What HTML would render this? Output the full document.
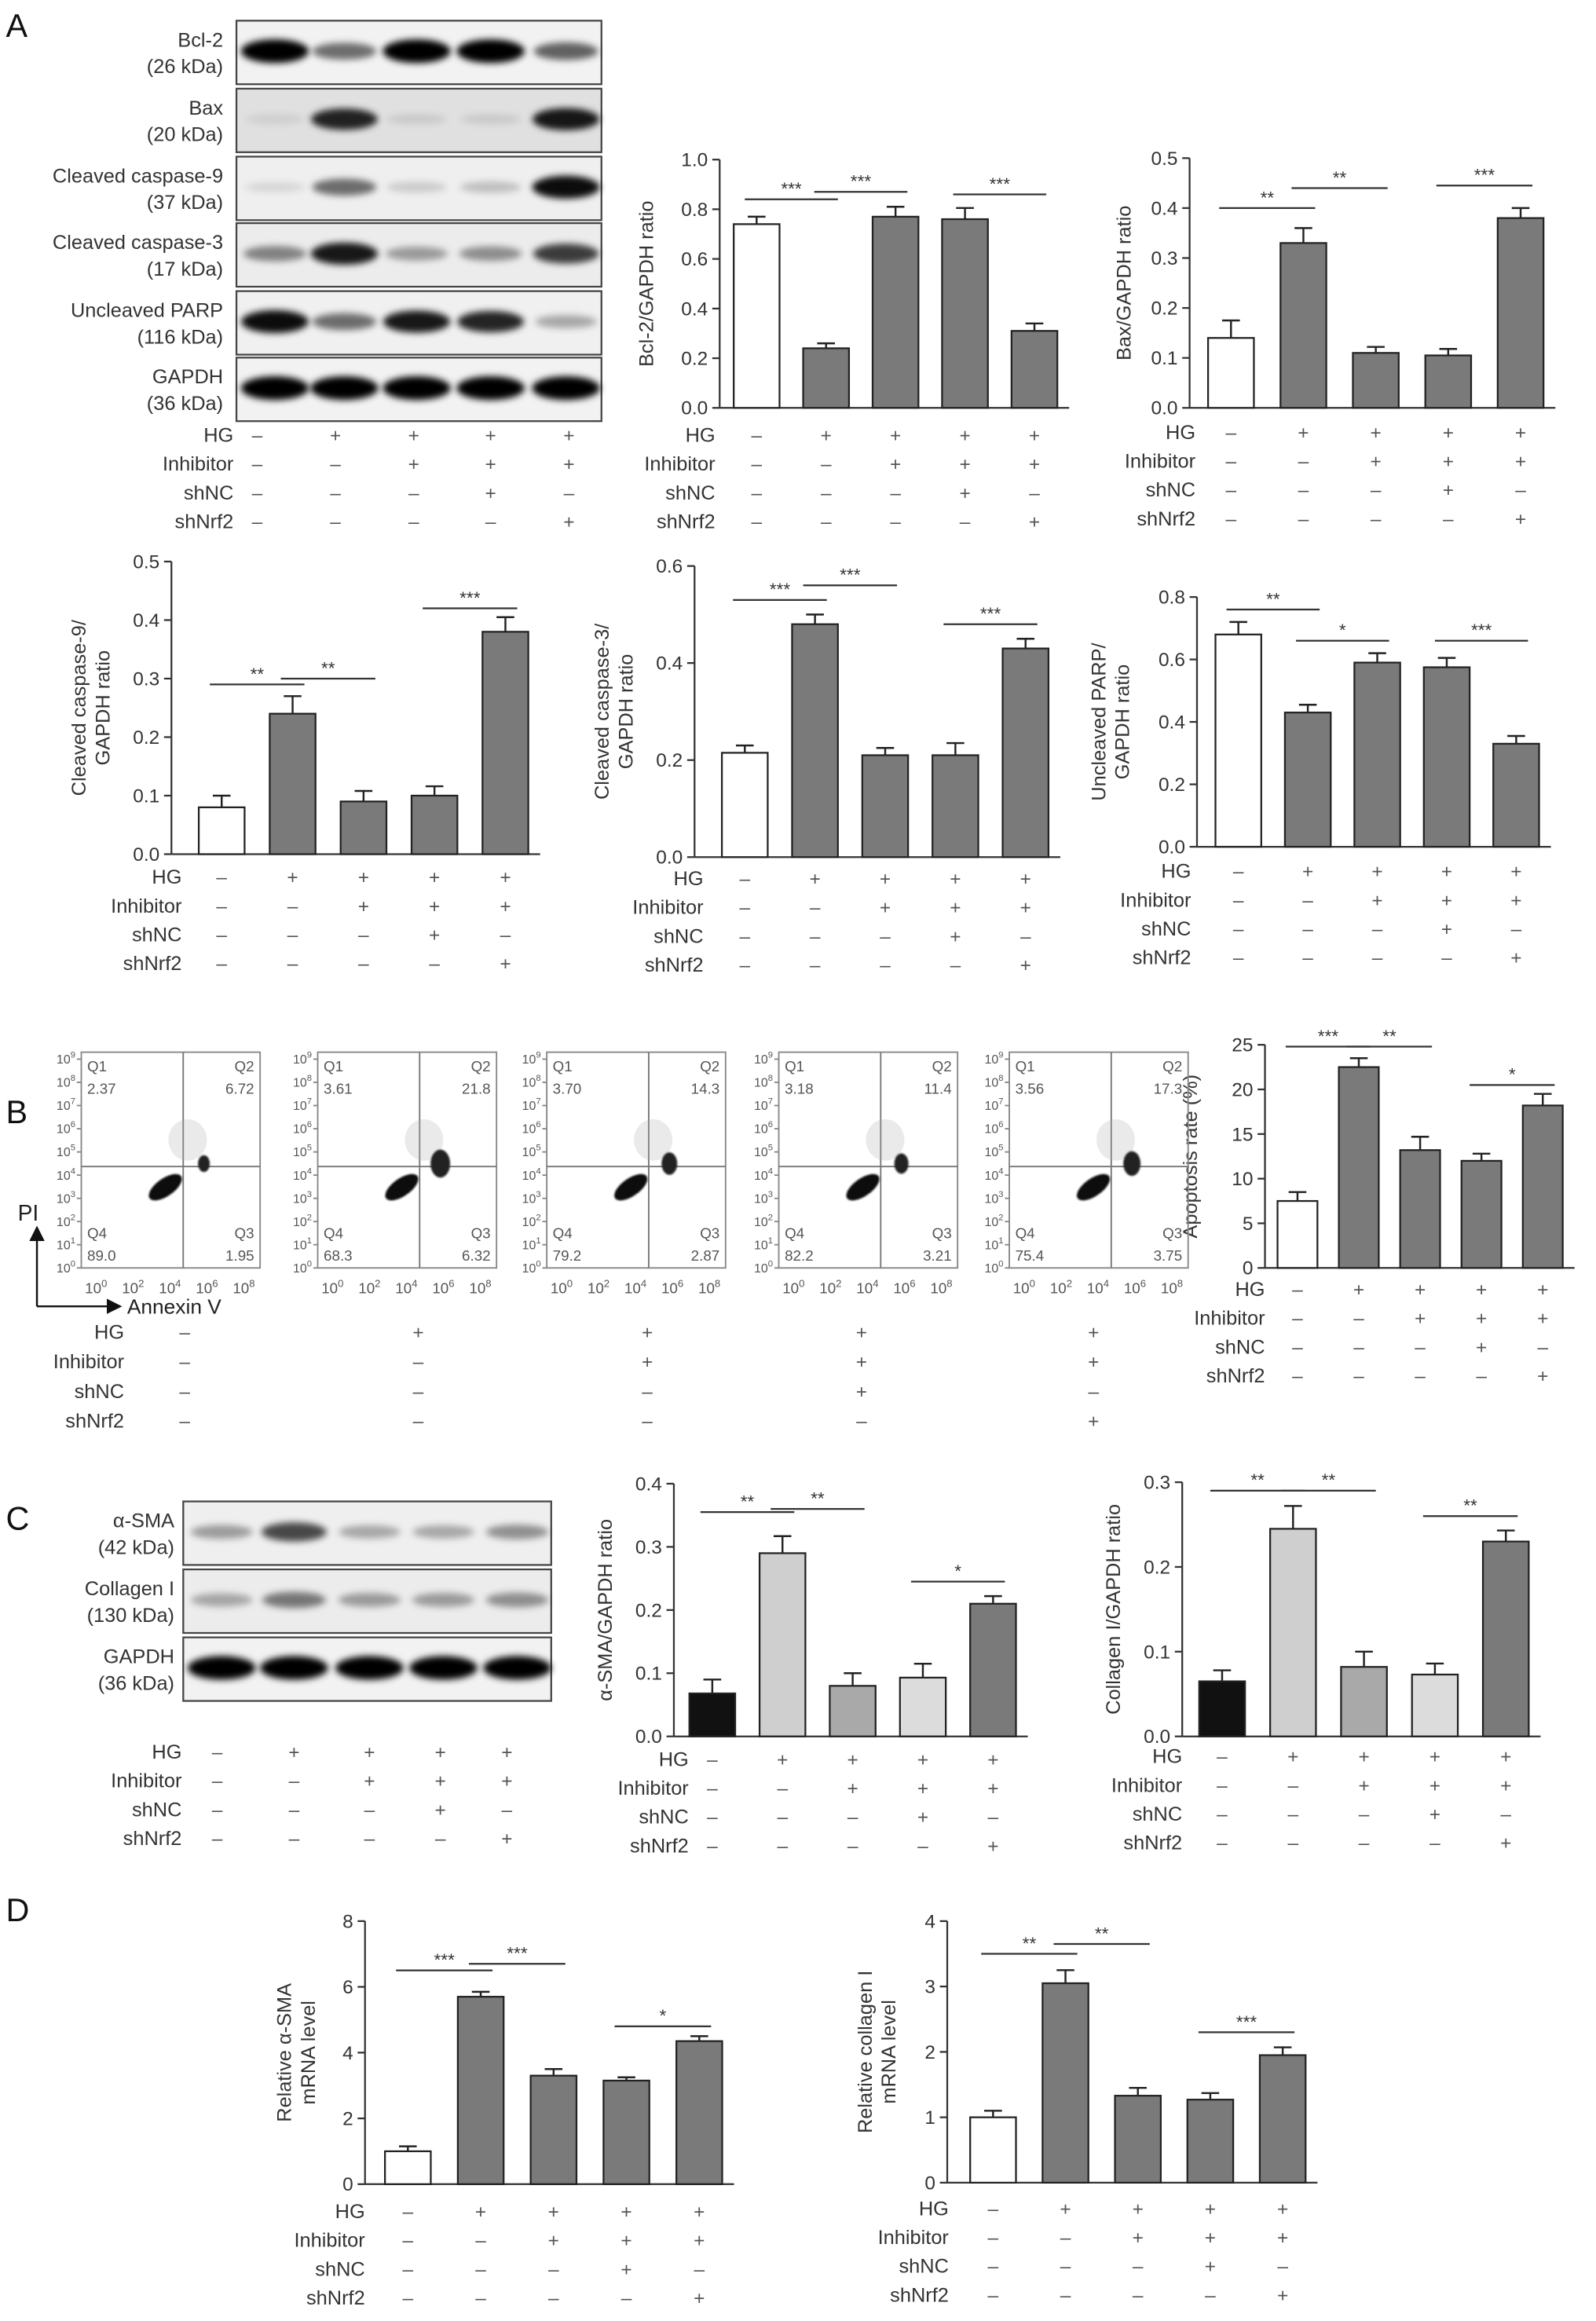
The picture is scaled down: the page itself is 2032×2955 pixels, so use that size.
<!DOCTYPE html>
<html><head><meta charset="utf-8">
<style>
html,body{margin:0;padding:0;background:#fff;}
svg{display:block;font-family:"Liberation Sans",sans-serif;}
</style></head>
<body>
<svg id="fig" width="2032" height="2955" viewBox="0 0 1080 1570.6" xmlns="http://www.w3.org/2000/svg">
<defs>
<filter id="blur" x="-20%" y="-50%" width="140%" height="200%"><feGaussianBlur stdDeviation="2.2"/></filter>
<filter id="blur2"><feGaussianBlur stdDeviation="0.6"/></filter>
<marker id="arr" markerWidth="8" markerHeight="8" refX="6" refY="4" orient="auto"><path d="M0,0 L8,4 L0,8 z" fill="#111"/></marker>
</defs>
<g id="root"></g>
</svg>
<script>
// ===== chart data =====
const groups = ["Control","HG","HG+Inhibitor","HG+Inhibitor+shNC","HG+Inhibitor+shNrf2"];
const rowLabels = ["HG","Inhibitor","shNC","shNrf2"];
const rowSigns = [["–","+","+","+","+"],["–","–","+","+","+"],["–","–","–","+","–"],["–","–","–","–","+"]];

const bcl2Values = [0.74,0.24,0.77,0.76,0.31];
const bcl2Errors = [0.03,0.02,0.04,0.045,0.03];
const bcl2Ticks = [0,0.2,0.4,0.6,0.8,1.0];
const bcl2Sig = [[0,1,"***",0.84],[1,2,"***",0.87],[3,4,"***",0.86]];

const baxValues = [0.14,0.33,0.11,0.105,0.38];
const baxErrors = [0.035,0.03,0.012,0.013,0.02];
const baxTicks = [0,0.1,0.2,0.3,0.4,0.5];
const baxSig = [[0,1,"**",0.40],[1,2,"**",0.44],[3,4,"***",0.445]];

const casp9Values = [0.08,0.24,0.09,0.10,0.38];
const casp9Errors = [0.02,0.03,0.018,0.016,0.025];
const casp9Ticks = [0,0.1,0.2,0.3,0.4,0.5];
const casp9Sig = [[0,1,"**",0.29],[1,2,"**",0.30],[3,4,"***",0.42]];

const casp3Values = [0.215,0.48,0.21,0.21,0.43];
const casp3Errors = [0.015,0.02,0.015,0.025,0.02];
const casp3Ticks = [0,0.2,0.4,0.6];
const casp3Sig = [[0,1,"***",0.53],[1,2,"***",0.56],[3,4,"***",0.48]];

const parpValues = [0.68,0.43,0.59,0.575,0.33];
const parpErrors = [0.04,0.025,0.03,0.03,0.025];
const parpTicks = [0,0.2,0.4,0.6,0.8];
const parpSig = [[0,1,"**",0.76],[1,2,"*",0.66],[3,4,"***",0.66]];

const apopValues = [7.5,22.5,13.2,12.0,18.2];
const apopErrors = [1.0,1.0,1.5,0.8,1.3];
const apopTicks = [0,5,10,15,20,25];
const apopSig = [[0,1,"***",24.8],[1,2,"**",24.8],[3,4,"*",20.5]];

const smaValues = [0.068,0.29,0.08,0.093,0.21];
const smaErrors = [0.022,0.027,0.02,0.022,0.012];
const smaTicks = [0,0.1,0.2,0.3,0.4];
const smaSig = [[0,1,"**",0.355],[1,2,"**",0.36],[3,4,"*",0.245]];

const colValues = [0.065,0.245,0.082,0.073,0.23];
const colErrors = [0.013,0.027,0.018,0.013,0.013];
const colTicks = [0,0.1,0.2,0.3];
const colSig = [[0,1,"**",0.29],[1,2,"**",0.29],[3,4,"**",0.26]];

const smaMrnaValues = [1.0,5.7,3.3,3.15,4.35];
const smaMrnaErrors = [0.15,0.15,0.2,0.1,0.15];
const smaMrnaTicks = [0,2,4,6,8];
const smaMrnaSig = [[0,1,"***",6.5],[1,2,"***",6.7],[3,4,"*",4.8]];

const colMrnaValues = [1.0,3.05,1.33,1.27,1.95];
const colMrnaErrors = [0.1,0.2,0.12,0.1,0.12];
const colMrnaTicks = [0,1,2,3,4];
const colMrnaSig = [[0,1,"**",3.5],[1,2,"**",3.65],[3,4,"***",2.3]];

const flowQ1 = ["2.37","3.61","3.70","3.18","3.56"];
const flowQ2 = ["6.72","21.8","14.3","11.4","17.3"];
const flowQ3 = ["1.95","6.32","2.87","3.21","3.75"];
const flowQ4 = ["89.0","68.3","79.2","82.2","75.4"];

// ===== helpers =====
const NS="http://www.w3.org/2000/svg";
const root=document.getElementById('root');
function el(tag,attrs,parent,text){const e=document.createElementNS(NS,tag);for(const k in attrs)e.setAttribute(k,attrs[k]);if(text!==undefined)e.textContent=text;(parent||root).appendChild(e);return e;}
const INK="#333";

function drawTable(g,x0,centers,y0,dy,labelX){
  rowLabels.forEach((lab,r)=>{
    const t=el('text',{x:labelX,y:y0+r*dy,'text-anchor':'end','font-size':13.5,fill:INK},g,lab);
    
    
    rowSigns[r].forEach((s,i)=>{
      const c=el('text',{x:centers[i],y:y0+r*dy,'text-anchor':'middle','font-size':13,fill:'#555'},g,s);
      
      
    });
  });
}

function barChart(cfg){
  const g=el('g',{},root);
  
  
  const ymax=cfg.ticks[cfg.ticks.length-1];
  const Y=v=>cfg.y0-(v/ymax)*(cfg.y0-cfg.y1);
  const X=i=>cfg.cx0+i*cfg.step;
  const bw=cfg.bw||31;
  const ya=el('line',{x1:cfg.ax,y1:cfg.y0,x2:cfg.ax,y2:cfg.y1,stroke:INK,'stroke-width':1.2},g);
  
  const xa=el('line',{x1:cfg.ax,y1:cfg.y0,x2:X(4)+bw/2+8,y2:cfg.y0,stroke:INK,'stroke-width':1.2},g);
  
  cfg.ticks.forEach(t=>{
    el('line',{x1:cfg.ax-5,y1:Y(t),x2:cfg.ax,y2:Y(t),stroke:INK,'stroke-width':1.2},g);
    const lt=el('text',{x:cfg.ax-8,y:Y(t)+4.5,'text-anchor':'end','font-size':13,fill:INK},g,cfg.fmt(t));
    
  });
  const ty=(cfg.y0+cfg.y1)/2;
  const tt=el('text',{transform:`translate(${cfg.tx},${ty}) rotate(-90)`,'text-anchor':'middle','font-size':13.5,fill:INK},g);
  
  cfg.title.forEach((line,k)=>{el('tspan',{x:0,dy:k===0?-(cfg.title.length-1)*8:16},tt,line);});
  cfg.values.forEach((v,i)=>{
    const col=cfg.colors[i];
    const e=cfg.errors[i];
    const cap=el('line',{x1:X(i)-6,y1:Y(v+e),x2:X(i)+6,y2:Y(v+e),stroke:'#222','stroke-width':1.3},g);
    
    const eb=el('line',{x1:X(i),y1:Y(v),x2:X(i),y2:Y(v+e),stroke:'#222','stroke-width':1.3},g);
    
    const b=el('rect',{x:X(i)-bw/2,y:Y(v),width:bw,height:cfg.y0-Y(v),fill:col,stroke:'#222','stroke-width':1.2},g);
    
  });
  cfg.sig.forEach(s=>{
    const y=Y(s[3]);
    const l=el('line',{x1:X(s[0])-8,y1:y,x2:X(s[1])+8,y2:y,stroke:INK,'stroke-width':1.2},g);
    
    const t=el('text',{x:(X(s[0])+X(s[1]))/2,y:y-3,'text-anchor':'middle','font-size':12,fill:INK},g,s[2]);
    
  });
  drawTable(g,0,[0,1,2,3,4].map(X),cfg.tabY,cfg.tabDy||19.5,cfg.labelX);
}
const fmt1=t=>t.toFixed(1), fmt0=t=>String(t);
const WG=['#fff','#7a7a7a','#7a7a7a','#7a7a7a','#7a7a7a'];
const CG=['#111','#cfcfcf','#a9a9a9','#dcdcdc','#7a7a7a'];

barChart({name:'bcl2-chart',values:bcl2Values,errors:bcl2Errors,ticks:bcl2Ticks,sig:bcl2Sig,fmt:fmt1,colors:WG,
  ax:487,y0:276,y1:108,cx0:512,step:47,tx:442,title:['Bcl-2/GAPDH ratio'],tabY:299,labelX:484});
barChart({name:'bax-chart',values:baxValues,errors:baxErrors,ticks:baxTicks,sig:baxSig,fmt:fmt1,colors:WG,
  ax:805,y0:276,y1:107,cx0:833,step:49,tx:765,title:['Bax/GAPDH ratio'],tabY:297,labelX:809});
barChart({name:'caspase9-chart',values:casp9Values,errors:casp9Errors,ticks:casp9Ticks,sig:casp9Sig,fmt:fmt1,colors:WG,
  ax:116,y0:578,y1:380,cx0:150,step:48,tx:66,title:['Cleaved caspase-9/','GAPDH ratio'],tabY:598,labelX:123});
barChart({name:'caspase3-chart',values:casp3Values,errors:casp3Errors,ticks:casp3Ticks,sig:casp3Sig,fmt:fmt1,colors:WG,
  ax:470,y0:580,y1:383,cx0:504,step:47.5,tx:420,title:['Cleaved caspase-3/','GAPDH ratio'],tabY:599,labelX:476});
barChart({name:'parp-chart',values:parpValues,errors:parpErrors,ticks:parpTicks,sig:parpSig,fmt:fmt1,colors:WG,
  ax:810,y0:573,y1:404,cx0:838,step:47,tx:756,title:['Uncleaved PARP/','GAPDH ratio'],tabY:594,labelX:806});
barChart({name:'apoptosis-chart',values:apopValues,errors:apopErrors,ticks:apopTicks,sig:apopSig,fmt:fmt0,colors:WG,
  ax:856,y0:858,y1:707,cx0:878,step:41.5,bw:27,tx:810,title:['Apoptosis rate (%)'],tabY:877,labelX:856});
barChart({name:'sma-protein-chart',values:smaValues,errors:smaErrors,ticks:smaTicks,sig:smaSig,fmt:fmt1,colors:CG,
  ax:456,y0:1175,y1:1004,cx0:482,step:47.5,tx:414,title:['α-SMA/GAPDH ratio'],tabY:1195,labelX:466});
barChart({name:'collagen-protein-chart',values:colValues,errors:colErrors,ticks:colTicks,sig:colSig,fmt:fmt1,colors:CG,
  ax:800,y0:1175,y1:1003,cx0:827,step:48,tx:758,title:['Collagen I/GAPDH ratio'],tabY:1193,labelX:800});
barChart({name:'sma-mrna-chart',values:smaMrnaValues,errors:smaMrnaErrors,ticks:smaMrnaTicks,sig:smaMrnaSig,fmt:fmt0,colors:WG,
  ax:247,y0:1478,y1:1300,cx0:276,step:49.3,tx:205,title:['Relative α-SMA','mRNA level'],tabY:1501,labelX:247});
barChart({name:'collagen-mrna-chart',values:colMrnaValues,errors:colMrnaErrors,ticks:colMrnaTicks,sig:colMrnaSig,fmt:fmt0,colors:WG,
  ax:641,y0:1477,y1:1300,cx0:672,step:49,tx:598,title:['Relative collagen I','mRNA level'],tabY:1499,labelX:642});

[['A',4,25],['B',4,760],['C',4,1035],['D',4,1300]].forEach(p=>{
  const t=el('text',{x:p[1],y:p[2],'font-size':22,fill:'#111'},root,p[0]);
  
  
});

function blot(name,x,y,w,h,lanes,intens,bg,labels,labelX){
  const g=el('g',{},root);
  
  
  el('rect',{x:x,y:y,width:w,height:h,fill:bg,stroke:'#444','stroke-width':1.2},g);
  lanes.forEach((cx,i)=>{
    const a=intens[i];
    if(a<=0)return;
    const b=el('ellipse',{cx:cx,cy:y+h*0.48,rx:20+a*3,ry:3+a*5,fill:'#000','fill-opacity':Math.min(1,a),filter:'url(#blur)'},g);
    
  });
  labels.forEach((l,k)=>{
    const t=el('text',{x:labelX,y:y+h/2-4+k*18,'text-anchor':'end','font-size':13.5,fill:INK},g,l);
    
  });
}
const laneA=[186,233,282,332,383];
blot('bcl2-blot',160,14,247,43,laneA,[1,0.55,1,1,0.6],'#f2f2f2',['Bcl-2','(26 kDa)'],151);
blot('bax-blot',160,60,247,43,laneA,[0.08,0.85,0.1,0.1,0.9],'#e0e0e0',['Bax','(20 kDa)'],151);
blot('caspase9-blot',160,106,247,43,laneA,[0.1,0.55,0.15,0.2,0.95],'#efefef',['Cleaved caspase-9','(37 kDa)'],151);
blot('caspase3-blot',160,151,247,43,laneA,[0.45,0.9,0.35,0.4,0.75],'#ececec',['Cleaved caspase-3','(17 kDa)'],151);
blot('parp-blot',160,197,247,43,laneA,[0.95,0.55,0.9,0.85,0.3],'#f0f0f0',['Uncleaved PARP','(116 kDa)'],151);
blot('gapdh-blot-a',160,242,247,43,laneA,[1,1,1,1,1],'#f2f2f2',['GAPDH','(36 kDa)'],151);
drawTable(root,0,[174,227,280,332,385],299,19.5,158);

const laneC=[150,199,250,300,350];
blot('sma-blot',124,1016,249,43,laneC,[0.35,0.7,0.3,0.3,0.4],'#efefef',['α-SMA','(42 kDa)'],118);
blot('collagen-blot',124,1062,249,43,laneC,[0.3,0.5,0.35,0.35,0.4],'#ececec',['Collagen I','(130 kDa)'],118);
blot('gapdh-blot-c',124,1108,249,43,laneC,[1,1,1,1,1],'#f2f2f2',['GAPDH','(36 kDa)'],118);
drawTable(root,0,[147,199,250,298,343],1190,19.5,123);

const flowX=[55,215,370,527,683];
flowX.forEach((fx,p)=>{
  const g=el('g',{},root);
  
  
  const bx=fx,by=712,bw=121,bh=146;
  el('rect',{x:bx,y:by,width:bw,height:bh,fill:'none',stroke:'#888','stroke-width':1},g);
  const qx=bx+bw*0.57,qy=by+bh*0.53;
  el('line',{x1:qx,y1:by,x2:qx,y2:by+bh,stroke:'#777','stroke-width':1},g);
  el('line',{x1:bx,y1:qy,x2:bx+bw,y2:qy,stroke:'#777','stroke-width':1},g);
  el('ellipse',{cx:qx+3,cy:qy-18,rx:13,ry:14,fill:'#aaa','fill-opacity':0.25},g);
  const c1=el('ellipse',{cx:bx+bw*0.47,cy:qy+14,rx:13,ry:6,transform:`rotate(-35 ${bx+bw*0.47} ${qy+14})`,fill:'#111',filter:'url(#blur2)'},g);
  
  const s2=4+parseFloat(flowQ2[p])/4;
  const c2=el('ellipse',{cx:qx+14,cy:qy-2,rx:s2*0.7,ry:s2,fill:'#222',filter:'url(#blur2)'},g);
  
  for(let k=0;k<=9;k++){
    const yy=by+bh-k*bh/9.3;
    el('line',{x1:bx-3,y1:yy,x2:bx,y2:yy,stroke:'#888'},g);
    const t=el('text',{x:bx-4,y:yy+3,'text-anchor':'end','font-size':8.5,fill:'#555'},g,'10');
    el('tspan',{dy:-4,'font-size':6},t,String(k));
  }
  ['0','2','4','6','8'].forEach((e,k)=>{
    const xx=bx+10+k*25;
    const t=el('text',{x:xx,y:by+bh+17,'text-anchor':'middle','font-size':10,fill:'#555'},g,'10');
    el('tspan',{dy:-4,'font-size':7},t,e);
  });
  const q=[['Q1',bx+4,by+13,'start'],[flowQ1[p],bx+4,by+28,'start'],['Q2',bx+bw-4,by+13,'end'],[flowQ2[p],bx+bw-4,by+28,'end'],
           ['Q4',bx+4,by+bh-20,'start'],[flowQ4[p],bx+4,by+bh-5,'start'],['Q3',bx+bw-4,by+bh-20,'end'],[flowQ3[p],bx+bw-4,by+bh-5,'end']];
  q.forEach(a=>{const t=el('text',{x:a[1],y:a[2],'text-anchor':a[3],'font-size':10,fill:'#555'},g,a[0]);
    });
});
el('line',{x1:25,y1:884,x2:25,y2:832,stroke:'#111','stroke-width':1.3,'marker-end':'url(#arr)'});
el('line',{x1:25,y1:884,x2:80,y2:884,stroke:'#111','stroke-width':1.3,'marker-end':'url(#arr)'});
const pi=el('text',{x:12,y:826,'font-size':15,fill:'#222'},root,'PI');

const an=el('text',{x:86,y:889,'font-size':14,fill:'#222'},root,'Annexin V');

drawTable(root,0,[125,283,438,583,740],906,20,84);
</script>
</body></html>
